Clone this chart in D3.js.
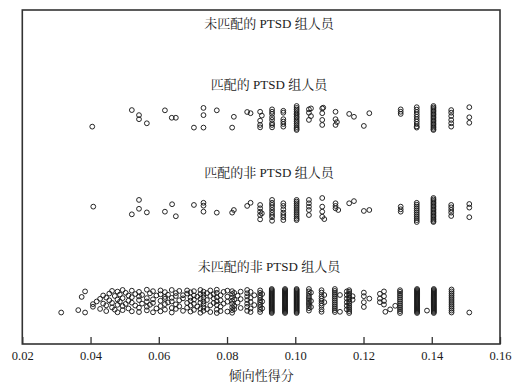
<!DOCTYPE html>
<html><head><meta charset="utf-8">
<script src="https://cdn.jsdelivr.net/npm/d3@7"></script>
<style>
html,body{margin:0;padding:0;background:#fff;}
svg{display:block;}
</style></head>
<body>
<script>
// ---------- data ----------
const scoreTicks = [0.02, 0.04, 0.06, 0.08, 0.10, 0.12, 0.14, 0.16];
const groupLabels = ["未匹配的 PTSD 组人员", "匹配的 PTSD 组人员", "匹配的非 PTSD 组人员", "未匹配的非 PTSD 组人员"];
const axisTitle = "倾向性得分";

// each entry: [propensity score, [jitter values 0..1 within the group's strip]]
const unmatchedPTSD = [];

const matchedPTSD = [
  [0.0405,[0.86]],[0.0521,[0.17]],[0.0542,[0.38,0.55]],[0.0565,[0.72]],
  [0.0618,[0.18]],[0.0638,[0.49]],[0.0650,[0.49]],[0.0703,[0.9]],
  [0.0731,[0.08,0.38,0.9]],[0.0770,[0.18]],[0.0815,[0.9]],[0.0820,[0.45]],
  [0.0859,[0.25]],[0.0869,[0.3]],[0.0897,[0.24,0.61,0.79,0.89]],[0.0902,[0.4]],
  [0.0932,[0.14,0.24,0.33,0.47,0.58,0.72,0.79,0.89]],
  [0.0965,[0.2,0.28,0.55,0.65,0.75,0.86]],
  [0.1004,[0.0,0.08,0.15,0.22,0.3,0.36,0.44,0.5,0.58,0.65,0.72,0.8,0.88,0.95,1.0]],
  [0.1040,[0.14,0.28,0.58]],[0.1046,[0.1,0.42]],
  [0.1079,[0.1,0.3,0.58,0.79]],[0.1082,[0.07]],
  [0.1118,[0.24,0.55,0.79]],[0.1122,[0.67]],
  [0.1158,[0.33]],[0.1172,[0.45]],[0.1201,[0.83]],[0.1217,[0.3]],
  [0.1309,[0.14,0.24,0.33]],
  [0.1356,[0.05,0.15,0.25,0.35,0.45,0.55,0.65,0.75,0.85,0.9]],
  [0.1405,[0,0.06,0.12,0.18,0.24,0.3,0.36,0.42,0.48,0.54,0.6,0.66,0.72,0.78,0.84,0.9,0.96,1.0]],
  [0.1457,[0.17,0.28,0.42,0.58,0.72,0.86]],
  [0.1510,[0.05,0.47,0.7]]
];

const matchedNonPTSD = [
  [0.0408,[0.36]],[0.0521,[0.68]],[0.0542,[0.08,0.45]],[0.0565,[0.6]],
  [0.0618,[0.57]],[0.0639,[0.26]],[0.0650,[0.76]],[0.0703,[0.29]],
  [0.0731,[0.2,0.32,0.57]],[0.0770,[0.61]],[0.0815,[0.61]],[0.0820,[0.5]],
  [0.0859,[0.33]],[0.0869,[0.2]],[0.0897,[0.29,0.43,0.57,0.71,0.89]],[0.0902,[0.64]],
  [0.0932,[0.08,0.2,0.29,0.39,0.5,0.61,0.71,0.8,0.95]],
  [0.0965,[0.22,0.33,0.47,0.61,0.71,0.8,0.92]],
  [0.1004,[0.08,0.15,0.22,0.3,0.38,0.46,0.54,0.62,0.7,0.78,0.86,0.92]],
  [0.1040,[0.08,0.22,0.36,0.5,0.71]],
  [0.1079,[0,0.36,0.57,0.78]],[0.1085,[0.88]],
  [0.1118,[0.22,0.33,0.43]],[0.1126,[0.5]],
  [0.1158,[0.22]],[0.1172,[0.13]],[0.1201,[0.54]],[0.1217,[0.5]],
  [0.1309,[0.36,0.47,0.57]],
  [0.1356,[0.2,0.28,0.36,0.44,0.52,0.6,0.68,0.76,0.84,0.92,1.0]],
  [0.1405,[0,0.06,0.12,0.18,0.24,0.3,0.36,0.42,0.48,0.54,0.6,0.66,0.72,0.78,0.84,0.9,0.96,1.0]],
  [0.1457,[0.29,0.39,0.5,0.61,0.75]],
  [0.1510,[0.25,0.4,0.8]]
];

const unmatchedNonPTSD = [
  [0.0314,[0.98]],[0.0364,[0.88]],[0.0374,[0.33]],[0.0384,[0.1,0.98]],
  [0.0407,[0.63,0.74]],[0.0418,[0.52]],[0.0428,[0.41,0.83]],[0.0437,[0.27,0.61]],
  [0.0446,[0.36,0.68,0.92]],[0.0455,[0.19,0.47]],[0.0463,[0.08,0.58,0.77]],
  [0.0471,[0.29,0.86]],[0.0479,[0.11,0.44,0.66,0.97]],[0.0486,[0.23,0.53]],
  [0.0494,[0.04,0.38,0.71,0.88]],[0.0503,[0.16,0.62]],[0.0511,[0.27,0.49,0.81]],
  [0.0521,[0.07,0.34,0.57,0.93]],[0.0531,[0.21,0.69]],[0.0542,[0.12,0.31,0.46,0.78,0.96]],
  [0.0551,[0.25,0.61]],[0.0565,[0.03,0.38,0.52,0.74,0.89]],[0.0574,[0.18,0.66]],
  [0.0583,[0.09,0.43,0.58,0.97]],[0.0593,[0.27,0.81]],[0.0605,[0.06,0.22,0.49,0.71,0.93]],
  [0.0618,[0.13,0.33,0.41,0.63,0.86]],[0.0627,[0.24,0.56]],[0.0638,[0.04,0.37,0.52,0.79,0.98]],
  [0.0650,[0.17,0.29,0.64,0.83]],[0.0660,[0.08,0.47,0.72]],[0.0671,[0.26,0.39,0.91]],
  [0.0683,[0.06,0.19,0.58,0.78]],[0.0693,[0.14,0.36,0.49,0.69,0.94]],
  [0.0703,[0.09,0.27,0.44,0.62,0.87]],[0.0713,[0.32,0.73]],[0.0722,[0.04,0.21,0.41,0.57,0.82,0.99]],
  [0.0731,[0.11,0.24,0.36,0.52,0.63,0.77,0.91]],[0.0741,[0.17,0.46,0.84]],[0.0751,[0.06,0.29,0.68,0.96]],
  [0.0761,[0.22,0.39,0.58]],[0.0770,[0.03,0.16,0.34,0.51,0.66,0.86,1.0]],[0.0781,[0.26,0.47,0.73,0.92]],
  [0.0790,[0.12,0.61]],[0.0801,[0.07,0.32,0.53,0.94]],
  [0.0815,[0.09,0.21,0.36,0.49,0.62,0.76,0.88,0.99]],[0.0821,[0.16,0.44,0.71,0.84]],[0.0831,[0.28,0.57]],
  [0.0840,[0.11,0.42,0.79]],[0.0859,[0.04,0.18,0.31,0.46,0.61,0.74,0.91]],[0.0869,[0.12,0.37,0.54,0.81,0.96]],
  [0.0880,[0.26,0.67]],[0.0897,[0.06,0.16,0.27,0.36,0.47,0.56,0.66,0.76,0.86,0.96]],[0.0903,[0.21,0.52,0.81]],
  [0.0931,[0,0.04,0.08,0.12,0.16,0.2,0.24,0.28,0.32,0.36,0.4,0.44,0.48,0.52,0.56,0.6,0.64,0.68,0.72,0.76,0.8,0.84,0.88,0.92,0.96,1.0]],
  [0.0970,[0,0.04,0.08,0.12,0.16,0.2,0.24,0.28,0.32,0.36,0.4,0.44,0.48,0.52,0.56,0.6,0.64,0.68,0.72,0.76,0.8,0.84,0.88,0.92,0.96,1.0]],
  [0.1004,[0,0.04,0.08,0.12,0.16,0.2,0.24,0.28,0.32,0.36,0.4,0.44,0.48,0.52,0.56,0.6,0.64,0.68,0.72,0.76,0.8,0.84,0.88,0.92,0.96,1.0]],
  [0.1040,[0.0,0.1,0.2,0.3,0.38,0.46,0.55,0.62,0.7,0.8,0.9]],[0.1046,[0.15,0.5,0.75]],
  [0.1077,[0.05,0.15,0.3,0.4,0.5,0.6,0.7,0.85,0.95]],[0.1085,[0.25,0.55]],
  [0.1116,[0,0.08,0.16,0.24,0.32,0.4,0.48,0.56,0.64,0.72,0.8,0.88,0.96]],
  [0.1131,[0.25,0.95]],[0.1151,[0.1,0.25,0.4,0.55,0.7,0.85]],
  [0.1158,[0.05,0.12,0.2,0.28,0.36,0.44,0.52,0.6,0.68,0.76,0.84,0.92,1.0]],[0.1168,[0.3,0.45]],
  [0.1201,[0.15,0.3,0.55,0.75]],[0.1217,[0.4]],
  [0.1248,[0.2,0.4,0.55]],[0.1260,[0.1,0.3,0.5,0.65]],[0.1264,[0.95]],[0.1278,[0.85]],[0.1293,[0.7]],
  [0.1307,[0.05,0.12,0.2,0.28,0.36,0.44,0.52,0.6,0.68,0.76,0.84,0.92,1.0]],
  [0.1357,[0,0.04,0.08,0.12,0.16,0.2,0.24,0.28,0.32,0.36,0.4,0.44,0.48,0.52,0.56,0.6,0.64,0.68,0.72,0.76,0.8,0.84,0.88,0.92,0.96,1.0]],
  [0.1386,[0.9]],
  [0.1406,[0,0.04,0.08,0.12,0.16,0.2,0.24,0.28,0.32,0.36,0.4,0.44,0.48,0.52,0.56,0.6,0.64,0.68,0.72,0.76,0.8,0.84,0.88,0.92,0.96,1.0]],
  [0.1458,[0.02,0.1,0.18,0.26,0.34,0.42,0.5,0.58,0.66,0.74,0.82,0.9,0.98]],
  [0.1510,[0.98]]
];

const groups = [unmatchedPTSD, matchedPTSD, matchedNonPTSD, unmatchedNonPTSD];

// ---------- layout ----------
const W = 523, H = 389;
const frame = {left: 22.3, right: 500, top: 10, bottom: 344};
const labelY = [23.5, 84.5, 172.5, 266];
const stripTop = [40, 106, 198, 289];
const stripH = 24;
const labelX = 269;

const svg = d3.select("body").append("svg").attr("width", W).attr("height", H);

const x = d3.scaleLinear().domain([0.02, 0.16]).range([frame.left, frame.right]);
const yj = d3.scaleLinear().domain([0, 1]).range([0, stripH]);

const serif = "'Liberation Serif','Times New Roman','Noto Serif CJK SC','Noto Sans CJK SC',serif";

// points
groups.forEach((g, gi) => {
  const pts = [];
  g.forEach(([ps, js]) => js.forEach(j => pts.push({ps, j})));
  svg.append("g").selectAll("circle").data(pts).join("circle")
    .attr("cx", d => x(d.ps))
    .attr("cy", d => stripTop[gi] + yj(d.j))
    .attr("r", 2.4)
    .attr("fill", "none")
    .attr("stroke", "#1a1a1a")
    .attr("stroke-width", 0.95);
});

// group labels
svg.append("g").selectAll("text").data(groupLabels).join("text")
  .attr("x", labelX)
  .attr("y", (d, i) => labelY[i])
  .attr("dy", "0.35em")
  .attr("text-anchor", "middle")
  .attr("font-family", serif)
  .attr("font-size", 13)
  .attr("fill", "#1a1a1a")
  .text(d => d);

// axis
const axis = d3.axisBottom(x).tickValues(scoreTicks).tickFormat(d3.format(".2f"))
  .tickSizeInner(-7).tickSizeOuter(0).tickPadding(7);
const ag = svg.append("g").attr("transform", `translate(0,${frame.bottom})`).call(axis);
ag.select(".domain").remove();
ag.selectAll(".tick line").attr("stroke", "#333").attr("stroke-width", 1.3);
ag.selectAll(".tick text").attr("font-family", serif).attr("font-size", 12.5).attr("fill", "#1a1a1a");

// frame
svg.append("rect")
  .attr("x", frame.left).attr("y", frame.top)
  .attr("width", frame.right - frame.left).attr("height", frame.bottom - frame.top)
  .attr("fill", "none").attr("stroke", "#333").attr("stroke-width", 1.6);

// axis title
svg.append("text")
  .attr("x", (frame.left + frame.right) / 2)
  .attr("y", 375.5).attr("dy", "0.35em")
  .attr("text-anchor", "middle")
  .attr("font-family", serif).attr("font-size", 13).attr("fill", "#1a1a1a")
  .text(axisTitle);
</script>
</body></html>
